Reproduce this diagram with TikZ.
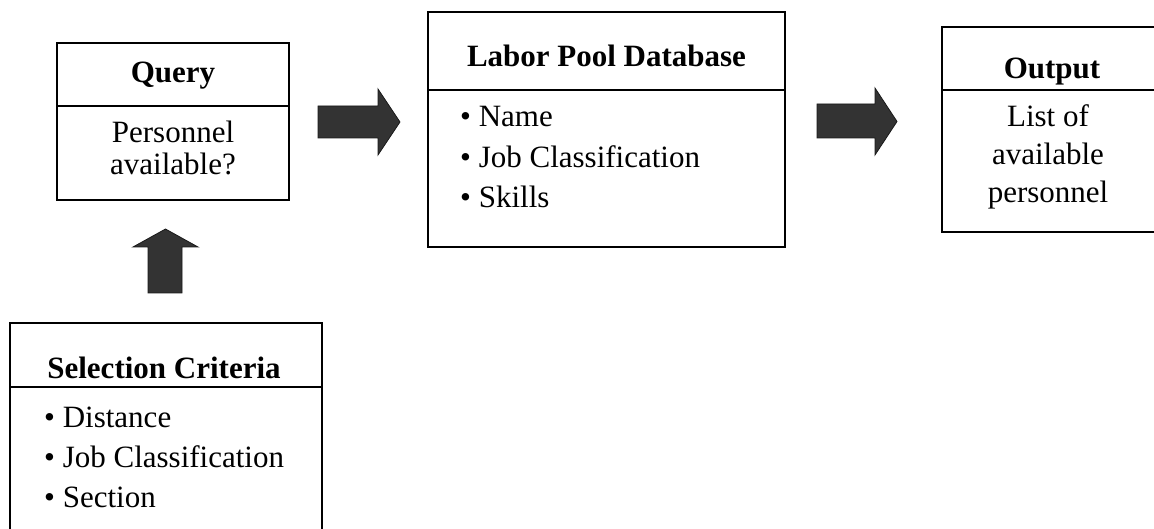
\documentclass[tikz,border=0pt]{standalone}
\usepackage{fontspec}
\setmainfont{Liberation Serif}
\begin{document}
\begin{tikzpicture}[x=1pt,y=-1pt,
  box/.style={draw, line width=1.6pt, rectangle, inner sep=0pt},
  divider/.style={line width=1.6pt},
  txt/.style={anchor=base, inner sep=0pt, font=\fontsize{31}{37}\selectfont},
  headtxt/.style={anchor=base, inner sep=0pt, font=\fontsize{31}{37}\selectfont\bfseries},
  itemtxt/.style={anchor=base west, inner sep=0pt, font=\fontsize{31}{37}\selectfont},
  blk/.style={fill=black!80, draw=black!90, line width=0.8pt, line join=miter}]
\useasboundingbox (0,0) rectangle (1154,529);
\clip (0,0) rectangle (1154,529);

% boxes
\node[box, minimum width=232pt, minimum height=157pt] (query) at (173,121.5) {};
\node[box, minimum width=357pt, minimum height=235pt] (labor) at (606.5,129.5) {};
\node[box, minimum width=218pt, minimum height=205pt] (output) at (1051,129.5) {};
\node[box, minimum width=312pt, minimum height=237pt] (select) at (166,441.5) {};

% dividers
\draw[divider] (query.west |- 0,106) -- (query.east |- 0,106);
\draw[divider] (labor.west |- 0,90) -- (labor.east |- 0,90);
\draw[divider] (output.west |- 0,90) -- (output.east |- 0,90);
\draw[divider] (select.west |- 0,387) -- (select.east |- 0,387);

% block arrows
\filldraw[blk] (318,106) -- (378,106) -- (378,89) -- (400,122) -- (378,155) -- (378,138) -- (318,138) -- cycle;
\filldraw[blk] (817,104) -- (875,104) -- (875,88) -- (897,121.5) -- (875,155) -- (875,138) -- (817,138) -- cycle;
\filldraw[blk] (148,293) -- (148,247) -- (133,247) -- (165.5,229) -- (198,247) -- (182,247) -- (182,293) -- cycle;

% texts
\node[headtxt] (qh) at (173,83) {Query};
\node[txt] (q1) at (173,143) {Personnel};
\node[txt] (q2) at (173,175) {available?};

\node[headtxt] (lh) at (606.5,67) {Labor Pool Database};
\node[itemtxt] (l1) at (460,127) {• Name};
\node[itemtxt] (l2) at (460,168) {• Job Classification};
\node[itemtxt] (l3) at (460,208) {• Skills};

\node[headtxt] (oh) at (1052,79) {Output};
\node[txt] (o1) at (1048,127) {List of};
\node[txt] (o2) at (1048,165) {available};
\node[txt] (o3) at (1048,203) {personnel};

\node[headtxt] (sh) at (164,378) {Selection Criteria};
\node[itemtxt] (s1) at (44,427) {• Distance};
\node[itemtxt] (s2) at (44,467) {• Job Classification};
\node[itemtxt] (s3) at (44,507) {• Section};
\end{tikzpicture}
\end{document}
